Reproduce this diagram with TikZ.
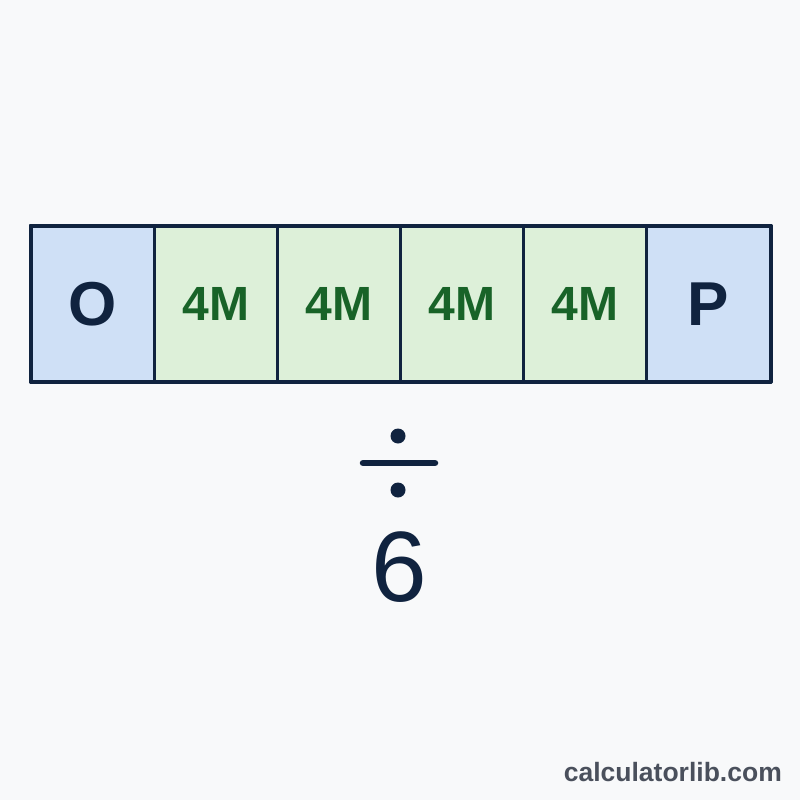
\documentclass[tikz,border=0pt]{standalone}
\usepackage{fontspec}
\setmainfont{Liberation Sans}
\definecolor{bgc}{HTML}{F8F9FA}
\definecolor{navy}{HTML}{10233F}
\definecolor{bluefill}{HTML}{CFE0F6}
\definecolor{greenfill}{HTML}{DDF0D9}
\definecolor{greentext}{HTML}{186328}
\definecolor{wmark}{HTML}{4A505C}
\begin{document}
\begin{tikzpicture}[x=1pt,y=-1pt,
  cell/.style={draw=navy,line width=2.5pt,minimum width=123pt,minimum height=155pt,inner sep=0pt,anchor=north west},
  bluecell/.style={cell,fill=bluefill,text=navy,font=\fontsize{62}{62}\selectfont\bfseries},
  greencell/.style={cell,fill=greenfill,text=greentext,font=\fontsize{48}{48}\selectfont\bfseries}]
\fill[bgc] (0,0) rectangle (800,800);
\useasboundingbox (0,0) rectangle (800,800);
\node[bluecell] (c1) at (30,225) {O};
\node[greencell] (c2) at (153,225) {4M};
\node[greencell] (c3) at (276,225) {4M};
\node[greencell] (c4) at (399,225) {4M};
\node[greencell] (c5) at (522,225) {4M};
\node[bluecell,minimum width=124pt] (c6) at (645,225) {P};
\draw[navy,line width=2.5pt,line join=round] (c1.north west) rectangle (c6.south east);
\fill[navy] (398,436) circle (7.5);
\fill[navy] (398,490) circle (7.5);
\draw[navy,line width=6.5pt,line cap=round] (363,463) -- (435,463);
\node[text=navy,font=\fontsize{100}{100}\selectfont,inner sep=0pt] (six) at (399,567) {6};
\node[text=wmark,font=\fontsize{26.5}{26.5}\selectfont\bfseries,inner sep=0pt,anchor=east] (wm) at (782,772) {calculatorlib.com};
\end{tikzpicture}
\end{document}
